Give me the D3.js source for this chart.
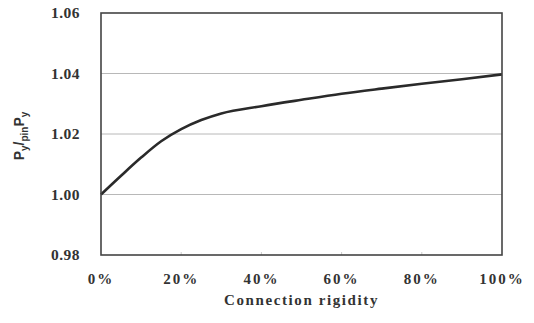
<!DOCTYPE html>
<html>
<head>
<meta charset="utf-8">
<script src="https://cdn.jsdelivr.net/npm/d3@7"></script>
<style>
  body { margin: 0; background: #fff; }
  text { font-family: "Liberation Serif", "DejaVu Serif", serif; font-weight: bold; fill: #333; }
</style>
</head>
<body>
<div id="chart"></div>
<script>
// --- data ---
const rigidity = [0, 5, 10, 15, 20, 25, 30, 40, 50, 60, 70, 80, 90, 100];
const ratio = [1.000, 1.0062, 1.0122, 1.0176, 1.0216, 1.0246, 1.0268, 1.0292, 1.0313, 1.0333, 1.0350, 1.0366, 1.0381, 1.0397];
const xTicks = [0, 20, 40, 60, 80, 100];
const yTicks = [0.98, 1.00, 1.02, 1.04, 1.06];

const W = 534, H = 323;
const margin = {top: 13, right: 32, bottom: 68, left: 101};
const width = W - margin.left - margin.right;
const height = H - margin.top - margin.bottom;

const svg = d3.select("#chart").append("svg")
    .attr("width", W)
    .attr("height", H);

const g = svg.append("g")
    .attr("transform", `translate(${margin.left},${margin.top})`);

const x = d3.scaleLinear().domain([0, 100]).range([0, width]);
const y = d3.scaleLinear().domain([0.98, 1.06]).range([height, 0]);

// gridlines
g.selectAll(".grid")
  .data(yTicks.slice(1, -1))
  .join("line")
    .attr("x1", 0).attr("x2", width)
    .attr("y1", d => y(d)).attr("y2", d => y(d))
    .attr("stroke", "#b8b8b8")
    .attr("stroke-width", 1);

// y tick labels
g.selectAll(".ylab")
  .data(yTicks)
  .join("text")
    .attr("x", -21)
    .attr("y", d => y(d))
    .attr("dy", "0.35em")
    .attr("text-anchor", "end")
    .style("font-size", "15.5px")
    .style("letter-spacing", "0.5px")
    .text(d => d3.format(".2f")(d));

// x tick labels
g.selectAll(".xlab")
  .data(xTicks)
  .join("text")
    .attr("x", d => x(d))
    .attr("y", height + 29)
    .attr("text-anchor", "middle")
    .style("font-size", "15px")
    .style("letter-spacing", "2px")
    .text(d => d + "%");

// small bottom ticks
g.selectAll(".xtick")
  .data(xTicks.slice(1, -1))
  .join("line")
    .attr("x1", d => x(d)).attr("x2", d => x(d))
    .attr("y1", height).attr("y2", height - 3)
    .attr("stroke", "#ccc");

// curve
const line = d3.line()
    .x((d, i) => x(rigidity[i]))
    .y(d => y(d))
    .curve(d3.curveMonotoneX);

g.append("path")
    .datum(ratio)
    .attr("d", line)
    .attr("fill", "none")
    .attr("stroke", "#2a2a2a")
    .attr("stroke-width", 2.6);

// frame
g.append("rect")
    .attr("width", width)
    .attr("height", height)
    .attr("fill", "none")
    .attr("stroke", "#444")
    .attr("stroke-width", 1.6);

// axis title
svg.append("text")
    .attr("x", margin.left + width / 2)
    .attr("y", 305)
    .attr("text-anchor", "middle")
    .style("font-size", "15px")
    .style("letter-spacing", "1.6px")
    .text("Connection rigidity");

// y title: P_y / _pin P_y
const yt = svg.append("text")
    .attr("transform", "translate(24,136) rotate(-90)")
    .attr("text-anchor", "middle")
    .style("font-family", "'Liberation Sans', Arial, sans-serif")
    .style("font-size", "14px");
yt.append("tspan").text("P");
yt.append("tspan").attr("dy", 4).style("font-size", "10px").text("y");
yt.append("tspan").attr("dy", -4).text("/");
yt.append("tspan").attr("dy", 4).style("font-size", "10px").text("pin");
yt.append("tspan").attr("dy", -4).text("P");
yt.append("tspan").attr("dy", 4).style("font-size", "10px").text("y");
</script>
</body>
</html>
